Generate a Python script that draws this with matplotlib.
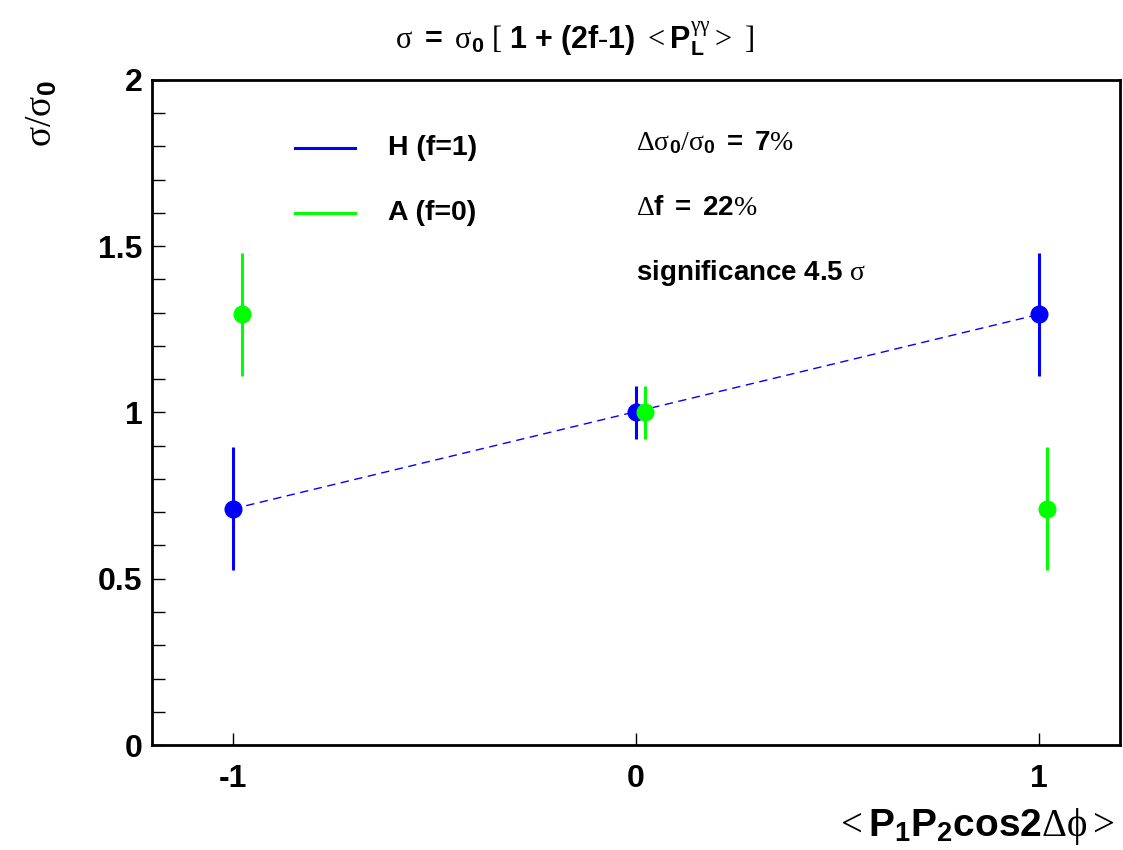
import matplotlib
matplotlib.use('Agg')
import matplotlib.pyplot as plt

plt.rcParams['font.family'] = ['Liberation Sans', 'DejaVu Sans']
plt.rcParams['font.weight'] = 'bold'
plt.rcParams['mathtext.fontset'] = 'custom'
plt.rcParams['mathtext.rm'] = 'Liberation Serif:weight=regular'
plt.rcParams['mathtext.it'] = 'Liberation Serif:italic'
plt.rcParams['mathtext.bf'] = 'Liberation Sans:bold'

# H (f=1): points on the line sigma/sigma0 = 1 + 0.29*<P1P2cos2dphi>
h_x = [-1.0, 0.0, 1.0]
h_y = [0.71, 1.0, 1.295]
h_err = [0.185, 0.08, 0.185]

# A (f=0), shifted slightly in x for visibility
a_x = [-0.978, 0.022, 1.02]
a_y = [1.295, 1.0, 0.71]
a_err = [0.185, 0.08, 0.185]

fit_x = [-1.0, 1.0]
fit_y = [0.71, 1.295]

y_ticks = [0, 0.5, 1, 1.5, 2]
y_ticklabels = ['0', '0.5', '1', '1.5', '2']
x_ticks = [-1, 0, 1]
x_ticklabels = ['-1', '0', '1']

fig = plt.figure(figsize=(11.23, 8.5), dpi=100)
ax = fig.add_axes([0.1354, 0.1235, 0.8616, 0.7825])

ax.plot(fit_x, fit_y, color='blue', lw=1.0, ls=(0, (6, 4)))
ax.errorbar(h_x, h_y, yerr=h_err, fmt='o', color='blue', ms=12, elinewidth=2.2, capsize=0)
ax.errorbar(a_x, a_y, yerr=a_err, fmt='o', color='#00ff00', ms=12, elinewidth=2.2, capsize=0)

ax.set_xlim(-1.2, 1.2)
ax.set_ylim(0, 2)
ax.set_xticks(x_ticks)
ax.set_xticklabels(x_ticklabels)
ax.set_yticks(y_ticks)
ax.set_yticklabels(y_ticklabels)
ax.set_yticks([i / 10 for i in range(21)], minor=True)
ax.tick_params(axis='both', direction='in', labelsize=23, width=1, length=9)
ax.tick_params(axis='y', which='minor', direction='in', width=1, length=9)
ax.tick_params(axis='x', pad=14)
ax.tick_params(axis='y', pad=7)
for s in ax.spines.values():
    s.set_linewidth(2)

# legend drawn by hand, ROOT style
ax.plot([-0.846, -0.697], [1.795, 1.795], color='blue', lw=2.2)
ax.plot([-0.846, -0.697], [1.6, 1.6], color='#00ff00', lw=2.2)
ax.text(-0.615, 1.795, 'H (f=1)', fontsize=20.5, va='center')
ax.text(-0.615, 1.6, 'A (f=0)', fontsize=20.5, va='center')

ax.text(0.0, 1.81, r'$\mathrm{\Delta\sigma}_{\mathbf{0}}\mathrm{/\sigma}_{\mathbf{0}}\mathbf{\ {=}\ 7}\mathrm{\%}$', fontsize=20, va='center')
ax.text(0.0, 1.615, r'$\mathrm{\Delta}\mathbf{f\ {=}\ 22}\mathrm{\%}$', fontsize=20, va='center')
ax.text(0.0, 1.42, r'$\mathbf{significance\ 4.5}\ \mathrm{\sigma}$', fontsize=20, va='center')

fig.text(0.512, 0.955, r'$\mathrm{\sigma}\mathbf{\ {=}\ }\mathrm{\sigma}_{\mathbf{0}}\ \mathrm{[}\ \mathbf{1\ {+}\ (2f}\mathbf{\text{-}}\mathbf{1)}\ \mathrm{<}\mathbf{P}_{\mathbf{L}}^{\mathrm{\gamma\gamma}}\mathrm{>}\ \mathrm{]}$',
         fontsize=22, ha='center', va='center')
fig.text(0.037, 0.905, r'$\mathrm{\sigma/\sigma}_{\mathbf{0}}$', fontsize=27, rotation=90, ha='center', va='top')
fig.text(0.993, 0.004, r'$\mathrm{<}\mathbf{P}_{\mathbf{1}}\mathbf{P}_{\mathbf{2}}\mathbf{cos2}\mathrm{\Delta\phi>}$',
         fontsize=28, ha='right', va='bottom')

fig.savefig('out.png', dpi=100)
